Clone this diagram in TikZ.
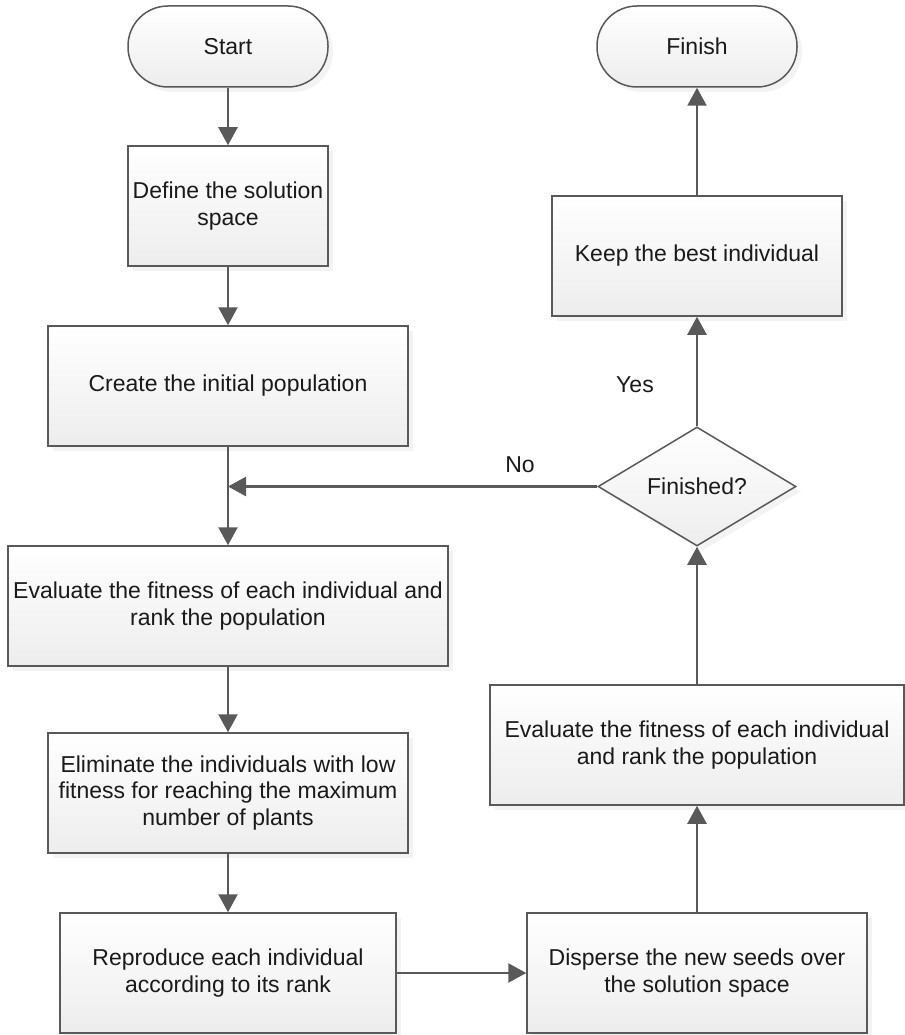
\documentclass[tikz,border=0pt]{standalone}
\usepackage{fontspec}
\setmainfont{Liberation Sans}
\usetikzlibrary{arrows.meta,shapes.geometric,shadows}
\definecolor{linec}{HTML}{595959}
\definecolor{fillb}{HTML}{EDEDED}
\definecolor{txt}{HTML}{1A1A1A}
\newcommand{\chartfont}{\fontsize{23}{26.5}\selectfont}
\begin{document}
\begin{tikzpicture}[x=1pt,y=-1pt,
  box/.style={rectangle, draw=linec, line width=1.5pt,
    top color=white, bottom color=fillb,
    drop shadow={shadow xshift=5pt, shadow yshift=-5pt, fill=black!9},
    align=center, font=\chartfont, text=txt, inner sep=0pt},
  term/.style={box, rounded corners=40pt},
  decision/.style={box, diamond},
  flow/.style={draw=linec, line width=2.4pt,
    -{Triangle[length=18pt,width=19pt]}},
  lbl/.style={font=\chartfont, text=txt, inner sep=0pt}]
\useasboundingbox (0,0) rectangle (904,1035);

% left column
\node[term, minimum width=200pt, minimum height=81pt] (start) at (228,46.5) {Start};
\node[box, minimum width=200pt, minimum height=120pt] (define) at (228,206) {Define the solution\\space};
\node[box, minimum width=360pt, minimum height=120pt] (create) at (228,386) {Create the initial population};
\node[box, minimum width=440pt, minimum height=120pt] (evalL) at (228,606) {Evaluate the fitness of each individual and\\rank the population};
\node[box, minimum width=360pt, minimum height=120pt] (elim) at (228,793) {Eliminate the individuals with low\\fitness for reaching the maximum\\number of plants};
\node[box, minimum width=336pt, minimum height=120pt] (repro) at (228,973) {Reproduce each individual\\according to its rank};

% right column
\node[box, minimum width=340pt, minimum height=120pt] (disp) at (697,973) {Disperse the new seeds over\\the solution space};
\node[box, minimum width=414pt, minimum height=120pt] (evalR) at (697,745) {Evaluate the fitness of each individual\\and rank the population};
\node[decision, minimum width=198pt, minimum height=119pt] (dec) at (697,486.5) {Finished?};
\node[box, minimum width=290pt, minimum height=120pt] (keep) at (697,256) {Keep the best individual};
\node[term, minimum width=200pt, minimum height=81pt] (finish) at (697,46.5) {Finish};

\coordinate (join) at (228,486.5);

% connectors
\draw[flow] (start) -- (define);
\draw[flow] (define) -- (create);
\draw[flow] (create) -- (evalL);
\draw[flow] (dec.west) -- (join);
\draw[flow] (evalL) -- (elim);
\draw[flow] (elim) -- (repro);
\draw[flow] (repro) -- (disp);
\draw[flow] (disp) -- (evalR);
\draw[flow] (evalR) -- (dec);
\draw[flow] (dec) -- (keep);
\draw[flow] (keep) -- (finish);

% branch labels
\node[lbl] (no) at (520,465) {No};
\node[lbl] (yes) at (635,385) {Yes};
\end{tikzpicture}
\end{document}
